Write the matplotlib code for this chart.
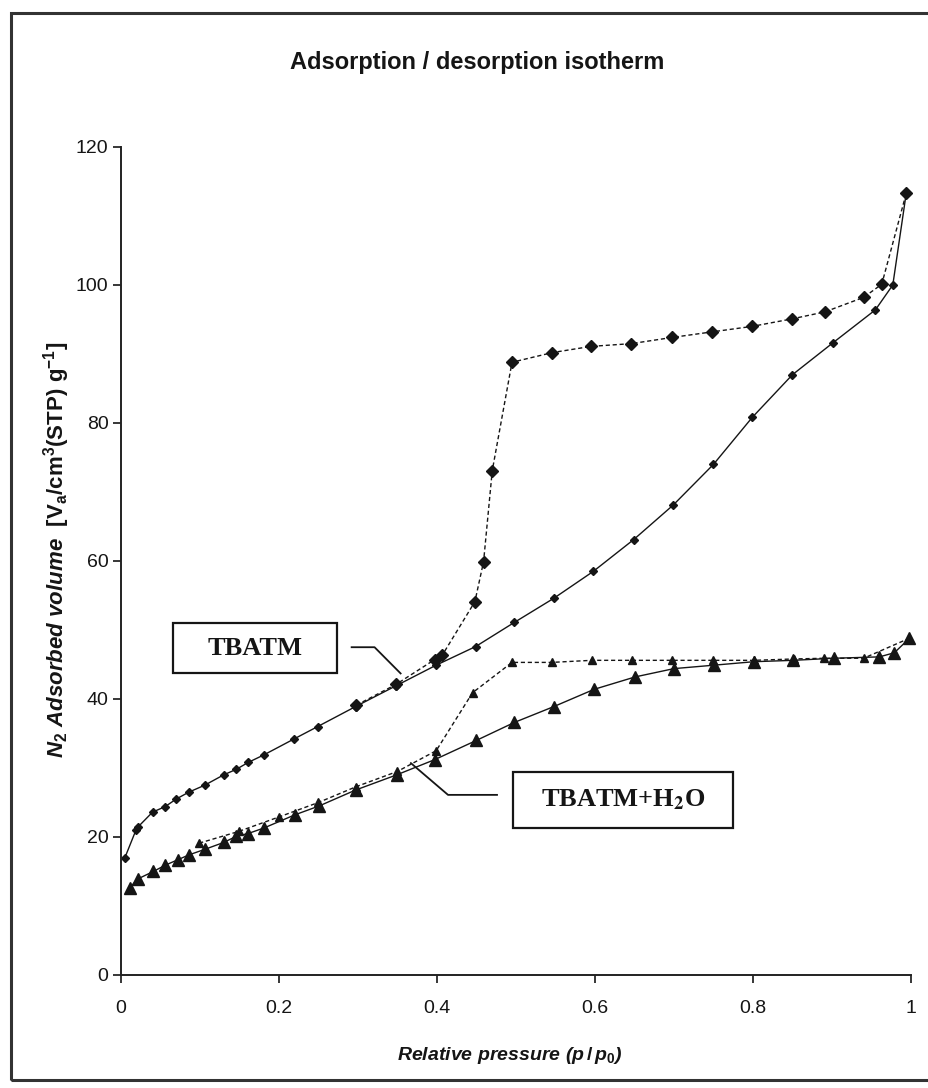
import matplotlib
matplotlib.use("Agg")
import matplotlib.pyplot as plt
from matplotlib.patches import Rectangle

plt.rcParams['font.family'] = ['Liberation Sans', 'DejaVu Sans']
plt.rcParams['mathtext.fontset'] = 'custom'
plt.rcParams['mathtext.rm'] = 'Liberation Sans:bold'
plt.rcParams['mathtext.it'] = 'Liberation Sans:italic:bold'
plt.rcParams['mathtext.bf'] = 'Liberation Sans:bold'

# TBATM - adsorption branch (solid) and desorption branch (dashed)
tbatm_ads_p = [0.005, 0.019, 0.022, 0.040, 0.056, 0.070, 0.086, 0.106, 0.130, 0.146,
               0.161, 0.181, 0.219, 0.249, 0.297, 0.348, 0.399, 0.449, 0.498, 0.548,
               0.598, 0.649, 0.699, 0.750, 0.799, 0.850, 0.901, 0.955, 0.977, 0.994]
tbatm_ads_v = [17.0, 21.0, 21.5, 23.6, 24.4, 25.5, 26.5, 27.5, 29.0, 29.8,
               30.8, 31.9, 34.2, 36.0, 38.9, 41.9, 44.9, 47.6, 51.1, 54.6,
               58.5, 63.1, 68.1, 74.0, 80.8, 87.0, 91.6, 96.4, 100.0, 113.3]
tbatm_des_p = [0.298, 0.348, 0.397, 0.407, 0.448, 0.459, 0.470, 0.495, 0.546, 0.595,
               0.646, 0.698, 0.748, 0.799, 0.850, 0.891, 0.940, 0.963, 0.994]
tbatm_des_v = [39.1, 42.1, 45.7, 46.4, 54.1, 59.9, 73.1, 88.8, 90.2, 91.1,
               91.5, 92.4, 93.2, 94.0, 95.1, 96.1, 98.2, 100.1, 113.3]

# TBATM+H2O
h2o_ads_p = [0.011, 0.021, 0.041, 0.056, 0.072, 0.086, 0.106, 0.130, 0.146, 0.161,
             0.181, 0.220, 0.251, 0.297, 0.349, 0.397, 0.450, 0.498, 0.548, 0.599,
             0.651, 0.700, 0.751, 0.801, 0.851, 0.902, 0.960, 0.979, 0.998]
h2o_ads_v = [12.6, 13.9, 15.0, 15.9, 16.7, 17.4, 18.2, 19.2, 20.1, 20.5,
             21.3, 23.2, 24.5, 26.8, 29.0, 31.2, 34.0, 36.6, 38.9, 41.4,
             43.2, 44.4, 44.9, 45.4, 45.6, 45.9, 46.1, 46.7, 48.8]
h2o_des_p = [0.099, 0.149, 0.200, 0.250, 0.298, 0.350, 0.399, 0.445, 0.495, 0.545,
             0.596, 0.647, 0.697, 0.749, 0.801, 0.852, 0.890, 0.940, 0.998]
h2o_des_v = [19.1, 20.8, 22.9, 25.0, 27.3, 29.5, 32.5, 40.9, 45.3, 45.3,
             45.6, 45.6, 45.6, 45.6, 45.6, 45.8, 45.9, 45.9, 48.8]

xticks = [0, 0.2, 0.4, 0.6, 0.8, 1.0]
xtick_labels = ['0', '0.2', '0.4', '0.6', '0.8', '1']
yticks = [0, 20, 40, 60, 80, 100, 120]
ytick_labels = ['0', '20', '40', '60', '80', '100', '120']

ink = '#151515'

fig = plt.figure(figsize=(9.29, 10.88), dpi=100)
ax = fig.add_axes([0.1302, 0.1039, 0.8504, 0.761])

ax.plot(tbatm_ads_p, tbatm_ads_v, color=ink, lw=1.0, marker='D', ms=3.8, clip_on=False)
ax.plot(tbatm_des_p, tbatm_des_v, color=ink, lw=1.0, ls=(0, (3, 2)), marker='D', ms=5.8,
        clip_on=False)
ax.plot(h2o_ads_p, h2o_ads_v, color=ink, lw=1.0, marker='^', ms=8.5, clip_on=False)
ax.plot(h2o_des_p, h2o_des_v, color=ink, lw=1.0, ls=(0, (3, 2)), marker='^', ms=6,
        clip_on=False)

ax.set_xlim(0, 1)
ax.set_ylim(0, 120)
ax.set_xticks(xticks)
ax.set_xticklabels(xtick_labels)
ax.set_yticks(yticks)
ax.set_yticklabels(ytick_labels)
ax.tick_params(direction='out', length=6, width=1.2, labelsize=14, colors=ink, pad=3)
ax.tick_params(axis='x', pad=12)
for side in ['top', 'right']:
    ax.spines[side].set_visible(False)
for side in ['left', 'bottom']:
    ax.spines[side].set_linewidth(1.4)
    ax.spines[side].set_color('#222222')

# series labels with leader lines
ax.add_patch(Rectangle((0.066, 43.7), 0.207, 7.33, transform=ax.transData, fill=True,
                       fc='white', ec=ink, lw=1.6, clip_on=False, zorder=5))
ax.text(0.066 + 0.207 / 2, 43.7 + 7.33 / 2, 'TBATM', family='Liberation Serif',
        weight='bold', fontsize=19, ha='center', va='center', color=ink, zorder=6)
ax.plot([0.292, 0.321, 0.354], [47.5, 47.5, 43.7], color=ink, lw=1.3, clip_on=False)

ax.add_patch(Rectangle((0.496, 21.3), 0.2785, 8.16, transform=ax.transData, fill=True,
                       fc='white', ec=ink, lw=1.6, clip_on=False, zorder=5))
ax.text(0.496 + 0.2785 / 2, 21.3 + 8.16 / 2, r'TBATM+H$_\mathbf{2}$O',
        family='Liberation Serif', weight='bold', fontsize=19, math_fontfamily='stix',
        ha='center', va='center', color=ink, zorder=6)
ax.plot([0.367, 0.414, 0.476], [30.7, 26.1, 26.1], color=ink, lw=1.3, clip_on=False)

fig.text(477 / 929, 1 - 62 / 1088, 'Adsorption / desorption isotherm',
         fontsize=17, weight='bold', ha='center', va='center', color=ink)
fig.text(510 / 929, 1 - 1055 / 1088, r'Relative pressure ($p\,/\,p_0$)',
         fontsize=14, weight='bold', style='italic', ha='center', va='center', color=ink)
fig.text(57 / 929, 1 - 550 / 1088,
         r'$N_2$ Adsorbed volume  $\mathrm{[V_a/cm^3(STP)\ g^{-1}]}$',
         fontsize=16, weight='bold', style='italic', rotation=90,
         ha='center', va='center', color=ink)

# outer frame of the chart
fig.add_artist(Rectangle((11 / 929, 1 - 1080 / 1088), 960 / 929, 1067 / 1088,
                         transform=fig.transFigure, fill=False, ec='#333333', lw=2.2))

fig.savefig('out.png', dpi=100)
